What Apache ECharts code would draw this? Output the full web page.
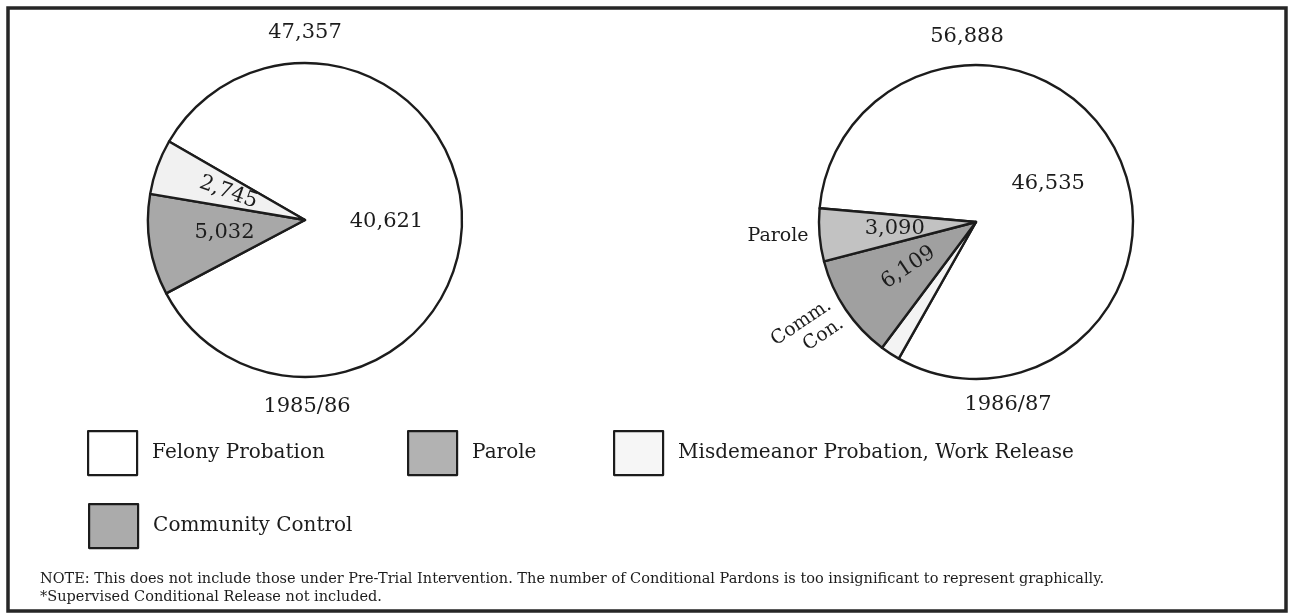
<!DOCTYPE html>
<html>
<head>
<meta charset="utf-8">
<script src="https://cdn.jsdelivr.net/npm/echarts@6/dist/echarts.min.js"></script>
<style>
  html, body { margin: 0; padding: 0; background: #ffffff; }
  #chart { width: 1291px; height: 616px; }
</style>
</head>
<body>
<div id="chart"></div>
<script>
// Caseload composition, two fiscal years
const years = ['1985/86', '1986/87'];
const totalLabels = ['47,357', '56,888'];

// 1985/86 slices (drawn clockwise from the start angle)
const cats8586 = ['Felony Probation', 'Parole', 'Misdemeanor Probation, Work Release'];
const vals8586 = [40621, 5032, 2745];

// 1986/87 slices (drawn clockwise from the start angle)
const cats8687 = ['Felony Probation', 'Misdemeanor Probation, Work Release', 'Community Control', 'Parole'];
const vals8687 = [46535, 1154, 6109, 3090];

// Short names printed beside some 1986/87 slices
const sideNames8687 = { 'Parole': 'Parole', 'Community Control': 'Comm.\nCon.' };

const legendNames = ['Felony Probation', 'Parole', 'Misdemeanor Probation, Work Release', 'Community Control'];

const noteLines = [
  'NOTE: This does not include those under Pre-Trial Intervention. The number of Conditional Pardons is too insignificant to represent graphically.',
  '*Supervised Conditional Release not included.'
];

// ---- styling ----
const INK = '#1c1c1c';
const SERIF = 'DejaVu Serif';
const fill8586 = {
  'Felony Probation': '#ffffff',
  'Parole': '#a8a8a8',
  'Misdemeanor Probation, Work Release': '#f1f1f1'
};
const fill8687 = {
  'Felony Probation': '#ffffff',
  'Misdemeanor Probation, Work Release': '#f3f3f3',
  'Community Control': '#a0a0a0',
  'Parole': '#c2c2c2'
};
const legendFill = {
  'Felony Probation': '#ffffff',
  'Parole': '#b2b2b2',
  'Misdemeanor Probation, Work Release': '#f6f6f6',
  'Community Control': '#ababab'
};
const radialSlices = { 'Misdemeanor Probation, Work Release': 'left', 'Community Control': 'right' };

const fmt = v => v.toLocaleString('en-US');

function pieData(cats, vals, fills, side) {
  return cats.map((name, i) => {
    const item = { name: name, value: vals[i], itemStyle: { color: fills[name] } };
    if (radialSlices[name] === side) item.label = { rotate: 'radial' };
    return item;
  });
}

const valueLabel = {
  show: true,
  position: 'inside',
  formatter: p => fmt(p.value),
  fontFamily: SERIF,
  fontSize: 21,
  color: INK
};

const pieBase = {
  type: 'pie',
  radius: 157,
  clockwise: true,
  avoidLabelOverlap: false,
  labelLine: { show: false },
  itemStyle: { borderColor: INK, borderWidth: 2.4 },
  emphasis: { disabled: true },
  silent: true
};

function legendBlock(name, left, top) {
  return {
    data: [{ name: name, itemStyle: { color: legendFill[name], borderColor: INK, borderWidth: 2.2 } }],
    left: left,
    top: top,
    padding: 0,
    itemGap: 0,
    itemWidth: 49,
    itemHeight: 44,
    icon: 'rect',
    selectedMode: false,
    textStyle: { fontFamily: SERIF, fontSize: 20, color: INK, padding: [0, 0, 0, 10] }
  };
}

const chart = echarts.init(document.getElementById('chart'), null, { renderer: 'canvas' });

chart.setOption({
  animation: false,
  backgroundColor: '#ffffff',
  legend: [
    legendBlock(legendNames[0], 87, 430),
    legendBlock(legendNames[1], 407, 430),
    legendBlock(legendNames[2], 613, 430),
    legendBlock(legendNames[3], 88, 503)
  ],
  series: [
    Object.assign({}, pieBase, {
      name: years[0],
      center: [305, 220],
      startAngle: 150,
      data: pieData(cats8586, vals8586, fill8586, 'left'),
      label: valueLabel
    }),
    Object.assign({}, pieBase, {
      name: years[1],
      center: [976, 222],
      startAngle: 175,
      data: pieData(cats8687, vals8687, fill8687, 'right'),
      label: valueLabel
    }),
    // Transparent copy of the 1986/87 pie that carries the side names
    Object.assign({}, pieBase, {
      name: years[1] + ' names',
      center: [976, 222],
      startAngle: 175,
      itemStyle: { color: 'rgba(0,0,0,0)', borderWidth: 0 },
      labelLine: { show: false, length: 6, length2: 0 },
      data: cats8687.map((name, i) => ({
        name: name,
        value: vals8687[i],
        label: sideNames8687[name]
          ? { show: true, rotate: name === 'Community Control' ? 'radial' : 0 }
          : { show: false }
      })),
      label: {
        show: true,
        position: 'outside',
        formatter: p => sideNames8687[p.name] || '',
        fontFamily: SERIF,
        fontSize: 19,
        lineHeight: 22,
        color: INK
      }
    })
  ],
  graphic: [
    {
      type: 'rect',
      shape: { x: 8, y: 8, width: 1278, height: 603 },
      style: { fill: 'none', stroke: '#262626', lineWidth: 3.5 },
      silent: true
    },
    { type: 'text', x: 305, y: 33, style: { text: totalLabels[0], align: 'center', verticalAlign: 'middle', font: '21px "DejaVu Serif"', fill: INK } },
    { type: 'text', x: 307, y: 407, style: { text: years[0], align: 'center', verticalAlign: 'middle', font: '21px "DejaVu Serif"', fill: INK } },
    { type: 'text', x: 967, y: 37, style: { text: totalLabels[1], align: 'center', verticalAlign: 'middle', font: '21px "DejaVu Serif"', fill: INK } },
    { type: 'text', x: 1008, y: 405, style: { text: years[1], align: 'center', verticalAlign: 'middle', font: '21px "DejaVu Serif"', fill: INK } },
    { type: 'text', x: 40, y: 579, style: { text: noteLines[0], align: 'left', verticalAlign: 'middle', font: '14.5px "DejaVu Serif"', fill: INK } },
    { type: 'text', x: 40, y: 597, style: { text: noteLines[1], align: 'left', verticalAlign: 'middle', font: '14.5px "DejaVu Serif"', fill: INK } }
  ]
});
</script>
</body>
</html>
